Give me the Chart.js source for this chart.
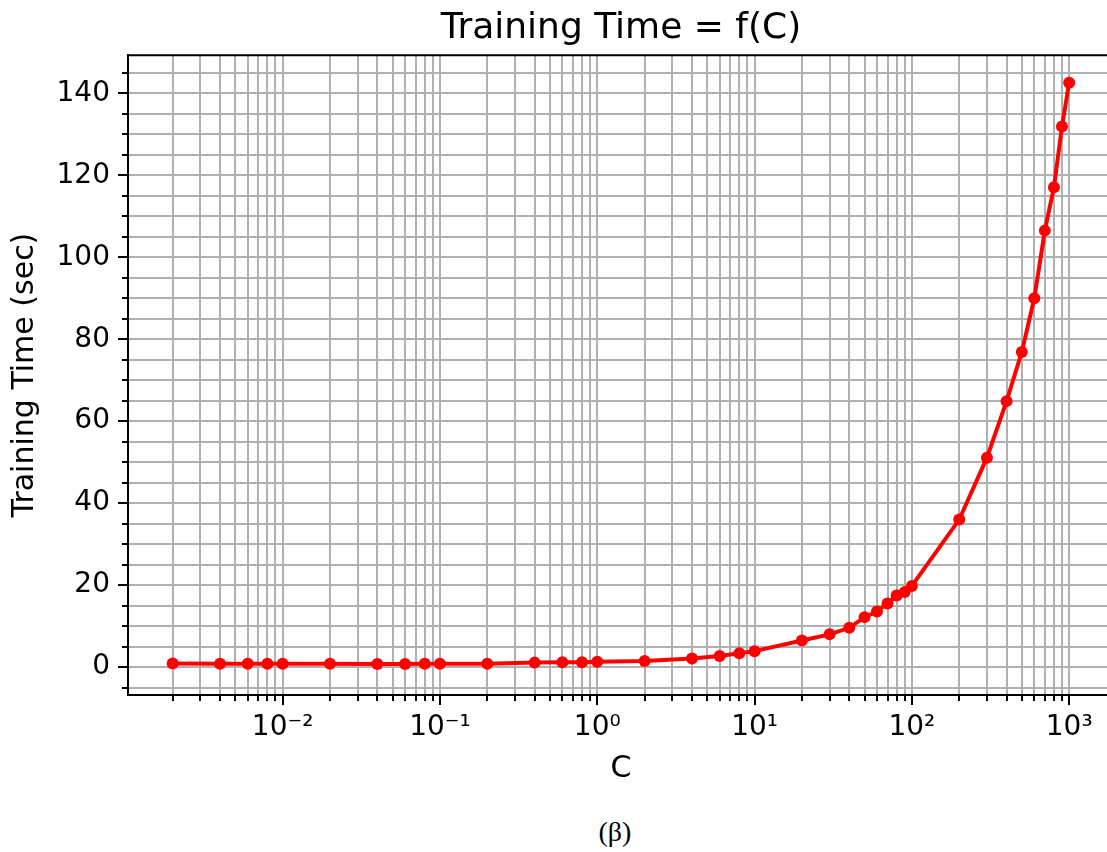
<!DOCTYPE html>
<html>
<head>
<meta charset="utf-8">
<script src="https://cdn.jsdelivr.net/npm/chart.js@4.4.1/dist/chart.umd.min.js"></script>
<style>
  html, body { margin: 0; padding: 0; background: #fff; overflow: hidden; }
  #wrap { position: absolute; left: 0; top: 0; width: 1120px; height: 800px; }
  #caption { position: absolute; left: 565px; top: 818px; width: 100px; text-align: center;
             font-family: "Liberation Serif", serif; font-size: 28px; line-height: 28px; color: #000; }
</style>
</head>
<body>
<div id="wrap"><canvas id="chart"></canvas></div>
<div id="caption">(β)</div>
<script>
// valores de C (eje x, logaritmico)
const cValues = [0.002, 0.004, 0.006, 0.008, 0.01, 0.02, 0.04, 0.06, 0.08, 0.1,
                 0.2, 0.4, 0.6, 0.8, 1, 2, 4, 6, 8, 10,
                 20, 30, 40, 50, 60, 70, 80, 90, 100,
                 200, 300, 400, 500, 600, 700, 800, 900, 1000];
// tiempos de entrenamiento (sec)
const trainTimes = [0.9, 0.8, 0.8, 0.8, 0.8, 0.8, 0.75, 0.75, 0.8, 0.8,
                    0.8, 1.1, 1.2, 1.2, 1.3, 1.5, 2.1, 2.7, 3.4, 3.9,
                    6.5, 8.0, 9.6, 12.2, 13.6, 15.5, 17.5, 18.3, 19.8,
                    36.0, 51.1, 64.9, 76.9, 90.0, 106.5, 117.1, 131.9, 142.6];

// ticks del eje x
const xMajorTicks = [0.01, 0.1, 1, 10, 100, 1000];
const xTickLabels = ['10\u207B\u00B2', '10\u207B\u00B9', '10\u2070', '10\u00B9', '10\u00B2', '10\u00B3'];
const xDecades = [0.001, 0.01, 0.1, 1, 10, 100, 1000];
const xMinorSteps = [1, 2, 3, 4, 5, 6, 7, 8, 9];

// el eje se corta por la derecha en la imagen original
const xMin = 1.04e-3, xMax = 1927;
const yMin = -6.8, yMax = 149.3;

const xTickValues = [];
xDecades.forEach(d => {
    xMinorSteps.forEach(k => {
        const v = parseFloat((k * d).toPrecision(6));
        if (v >= xMin && v <= xMax) xTickValues.push(v);
    });
});

function isXMajor(v) {
    return xMajorTicks.findIndex(m => Math.abs(m - v) / m < 1e-9);
}

const fontName = "'DejaVu Sans', sans-serif";

// marco superior + marcas de los ejes (mayores largas, menores cortas)
const framePlugin = {
    id: 'frame',
    afterDraw(chart) {
        const ctx = chart.ctx;
        const area = chart.chartArea;
        const xs = chart.scales.x, ys = chart.scales.y;
        ctx.save();
        ctx.strokeStyle = '#000';
        ctx.lineWidth = 2;
        ctx.beginPath();
        ctx.moveTo(area.left - 1, area.top);
        ctx.lineTo(area.right + 1, area.top);
        ctx.stroke();
        ctx.beginPath();
        xs.ticks.forEach(t => {
            const px = Math.round(xs.getPixelForValue(t.value));
            const len = isXMajor(t.value) >= 0 ? 10 : 6;
            ctx.moveTo(px, area.bottom);
            ctx.lineTo(px, area.bottom + len);
        });
        ys.ticks.forEach(t => {
            const py = Math.round(ys.getPixelForValue(t.value));
            const len = t.value % 20 === 0 ? 10 : 6;
            ctx.moveTo(area.left, py);
            ctx.lineTo(area.left - len, py);
        });
        ctx.stroke();
        ctx.restore();
    }
};

const ctx = document.getElementById('chart').getContext('2d');
new Chart(ctx, {
    type: 'line',
    data: {
        labels: cValues,
        datasets: [{
            label: 'Training Time',
            data: cValues.map((c, i) => ({x: c, y: trainTimes[i]})),
            borderColor: '#ff0000',
            backgroundColor: '#ff0000',
            borderWidth: 4,
            pointRadius: 6,
            pointBorderWidth: 0,
            pointBackgroundColor: '#ff0000',
            tension: 0,
            fill: false
        }]
    },
    options: {
        responsive: true,
        maintainAspectRatio: false,
        animation: false,
        layout: { padding: { left: 0, right: 6, top: 0, bottom: 0 } },
        scales: {
            x: {
                type: 'logarithmic',
                min: xMin,
                max: xMax,
                bounds: 'data',
                afterBuildTicks: function(scale) {
                    scale.ticks = xTickValues.map(v => ({value: v, major: isXMajor(v) >= 0}));
                },
                afterFit: function(scale) {
                    scale.height = 105;
                    scale.paddingLeft = 0;
                    scale.paddingRight = 0;
                },
                grid: { color: '#b0b0b0', lineWidth: 2, drawTicks: false },
                border: { display: true, color: '#000', width: 2 },
                ticks: {
                    autoSkip: false,
                    maxRotation: 0,
                    padding: 16,
                    color: '#000',
                    font: { family: fontName, size: 28 },
                    callback: function(value) {
                        const i = isXMajor(value);
                        return i >= 0 ? xTickLabels[i] : '';
                    }
                },
                title: {
                    display: true,
                    text: 'C',
                    color: '#000',
                    font: { family: fontName, size: 30 },
                    padding: { top: 0, bottom: 13 }
                }
            },
            y: {
                min: yMin,
                max: yMax,
                afterFit: function(scale) { scale.width = 128; },
                grid: { color: '#b0b0b0', lineWidth: 2, drawTicks: false },
                border: { display: true, color: '#000', width: 2 },
                ticks: {
                    stepSize: 5,
                    includeBounds: false,
                    autoSkip: false,
                    padding: 18,
                    color: '#000',
                    font: { family: fontName, size: 28 },
                    callback: function(value) {
                        return value % 20 === 0 ? value : '';
                    }
                },
                title: {
                    display: true,
                    text: 'Training Time (sec)',
                    color: '#000',
                    font: { family: fontName, size: 30 },
                    padding: { top: 7, bottom: 0 }
                }
            }
        },
        plugins: {
            legend: { display: false },
            tooltip: { enabled: false },
            title: {
                display: true,
                fullSize: false,
                text: 'Training Time = f(C)',
                color: '#000',
                font: { family: fontName, size: 36, weight: 'normal' },
                padding: { top: 7, bottom: 5 }
            }
        }
    },
    plugins: [framePlugin]
});
</script>
</body>
</html>
